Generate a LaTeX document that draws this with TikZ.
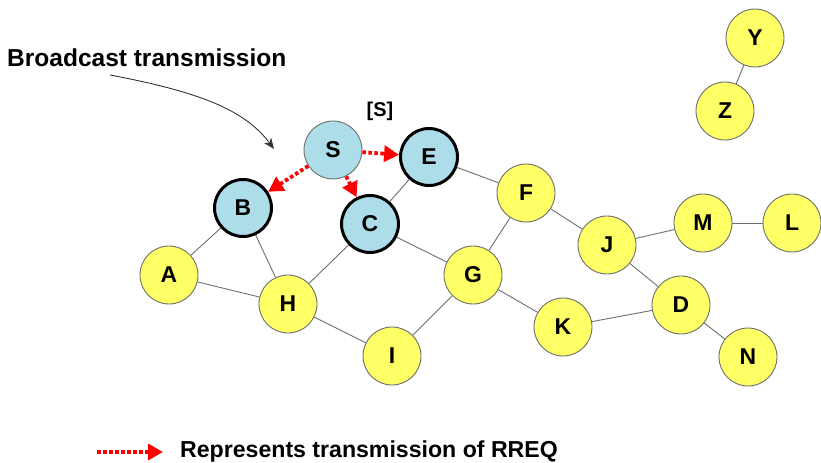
\documentclass[tikz,border=0pt]{standalone}
\usepackage{fontspec}
\setmainfont{Liberation Sans}
\usetikzlibrary{arrows.meta}
\definecolor{nodeyellow}{RGB}{255,255,102}
\definecolor{nodeblue}{RGB}{172,221,232}
\definecolor{edgegray}{RGB}{110,110,110}
\definecolor{rreqred}{RGB}{255,0,0}
\tikzset{
  ynode/.style={circle, draw=edgegray, line width=0.9pt, fill=nodeyellow, minimum size=58bp, inner sep=0pt, font=\fontsize{23}{25}\selectfont\bfseries},
  bnode/.style={circle, draw=black, line width=3pt, fill=nodeblue, minimum size=57bp, inner sep=0pt, font=\fontsize{23}{25}\selectfont\bfseries},
  snode/.style={circle, draw=edgegray, line width=0.9pt, fill=nodeblue, minimum size=58bp, inner sep=0pt, font=\fontsize{23}{25}\selectfont\bfseries},
  link/.style={draw=edgegray, line width=0.9pt},
  rreq/.style={draw=rreqred, line width=3.8bp, dash pattern=on 3.5bp off 2.5bp, -{Triangle[length=15bp,width=16bp,fill=rreqred]}},
  caption/.style={font=\fontsize{23.2}{25}\selectfont\bfseries, inner sep=0pt}
}
\begin{document}
\begin{tikzpicture}[x=1bp,y=-1bp]
\useasboundingbox (0,0) rectangle (821,463);
% nodes
\node[ynode] (Y) at (755,38) {Y};
\node[ynode] (Z) at (725,111) {Z};
\node[ynode] (A) at (169,275) {A};
\node[ynode] (H) at (288,304) {H};
\node[ynode] (I) at (392,356) {I};
\node[ynode] (F) at (526,193) {F};
\node[ynode] (G) at (473,275) {G};
\node[ynode] (K) at (563,327) {K};
\node[ynode] (J) at (607,245) {J};
\node[ynode] (M) at (703,223) {M};
\node[ynode] (L) at (792,223) {L};
\node[ynode] (D) at (681,305) {D};
\node[ynode] (N) at (748,357) {N};
\node[bnode] (B) at (243,208) {B};
\node[bnode] (C) at (370,224) {C};
\node[bnode] (E) at (429,157) {E};
\node[snode] (S) at (333,150) {S};
% links
\draw[link] (Y) -- (Z);
\draw[link] (B) -- (A);
\draw[link] (B) -- (H);
\draw[link] (A) -- (H);
\draw[link] (H) -- (C);
\draw[link] (H) -- (I);
\draw[link] (C) -- (E);
\draw[link] (C) -- (G);
\draw[link] (E) -- (F);
\draw[link] (F) -- (G);
\draw[link] (F) -- (J);
\draw[link] (G) -- (I);
\draw[link] (G) -- (K);
\draw[link] (K) -- (D);
\draw[link] (J) -- (D);
\draw[link] (J) -- (M);
\draw[link] (M) -- (L);
\draw[link] (D) -- (N);
% RREQ arrows
\draw[rreq] (S) -- (E);
\draw[rreq] (S) -- (B);
\draw[rreq] (S) -- (C);
% labels
\node[font=\fontsize{20}{22}\selectfont\bfseries, inner sep=0pt] (slabel) at (380,111) {[S]};
\node[font=\fontsize{24.6}{26}\selectfont\bfseries, inner sep=0pt, anchor=west] (bcast) at (7,58) {Broadcast transmission};
\coordinate (bstart) at (110,75);
\coordinate (bend) at (274,149);
\draw[black!80, line width=0.9pt, -{Stealth[length=11bp,width=9bp]}] (bstart) .. controls (200,92) and (245,110) .. (bend);
\coordinate (lstart) at (97,452);
\coordinate (lend) at (163,452);
\draw[rreq] (lstart) -- (lend);
\node[caption, anchor=west] (legend) at (180,452) {Represents transmission of RREQ};
\end{tikzpicture}
\end{document}
